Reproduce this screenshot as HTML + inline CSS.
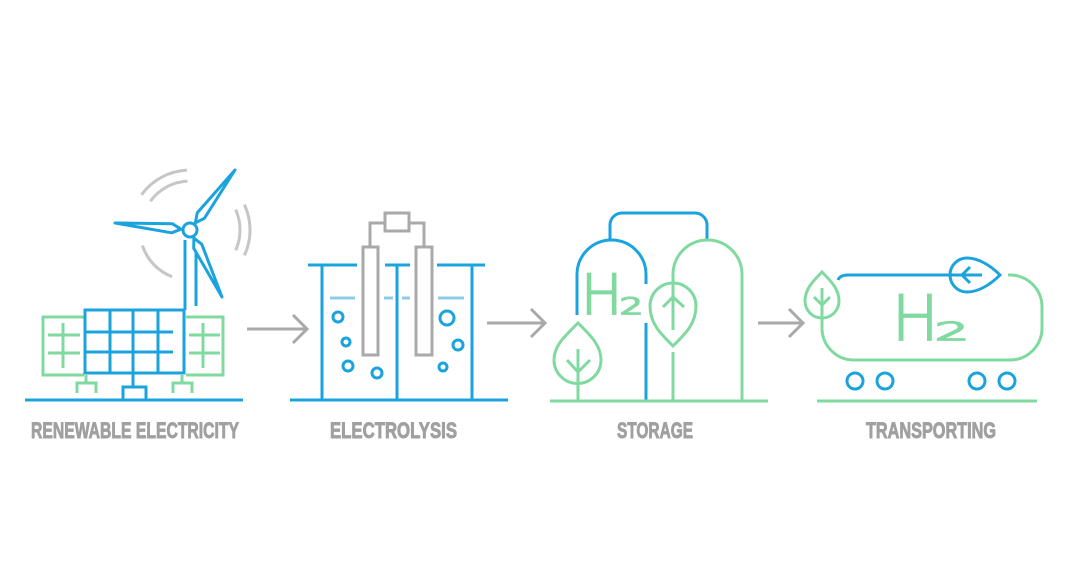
<!DOCTYPE html>
<html>
<head>
<meta charset="utf-8">
<style>
  html, body { margin: 0; padding: 0; background: #ffffff; }
  body { width: 1068px; height: 580px; overflow: hidden; }
  svg { display: block; }
  .b { stroke: #1ba3dd; stroke-width: 3; fill: none; }
  .g { stroke: #80da9f; stroke-width: 3; fill: none; }
  .gr { stroke: #a9a9a9; stroke-width: 3; fill: none; }
  .arc { stroke: #c6c6c6; stroke-width: 3; fill: none; }
  .w { stroke: #8bcde6; stroke-width: 3; fill: none; }
  .lbl { font-family: "Liberation Sans Narrow", "Liberation Sans", sans-serif; font-weight: bold; font-size: 22px; fill: #a0a0a0; stroke: #a0a0a0; stroke-width: 0.9; }
  .h2 { font-family: "DejaVu Sans", "Liberation Sans", sans-serif; font-weight: 200; fill: #80da9f; stroke: #80da9f; stroke-width: 1.8; }
</style>
</head>
<body>
<svg width="1068" height="580" viewBox="0 0 1068 580" xmlns="http://www.w3.org/2000/svg">
  <rect width="1068" height="580" fill="#ffffff"/>

  <!-- ========== RENEWABLE ELECTRICITY ========== -->
  <path class="arc" d="M141.5,194.7 A60,60 0 0 1 186.9,170.1"/>
  <path class="arc" d="M150.4,201.2 A49,49 0 0 1 187.4,181.1"/>
  <path class="arc" d="M235.7,209.7 A50,50 0 0 1 235.7,250.3"/>
  <path class="arc" d="M244.4,204.6 A60,60 0 0 1 244.4,255.4"/>
  <path class="arc" d="M172.1,276.7 A50,50 0 0 1 142.4,245.5"/>

  <path class="b" d="M185,240 V310"/>
  <path class="b" d="M196,253 V306"/>
  <path class="b" stroke-width="2.6" stroke-linejoin="round" d="M195.4,222.8 L204.4,218.3 L235,170 L197.2,212.9 Z"/>
  <path class="b" stroke-width="2.6" stroke-linejoin="round" d="M181,229.2 L172.5,223.8 L115,223 L171.7,232.8 Z"/>
  <path class="b" stroke-width="2.6" stroke-linejoin="round" d="M193.9,238.1 L193.7,248.2 L222,297 L201.8,244.3 Z"/>
  <circle cx="190" cy="230" r="7" fill="#ffffff" stroke="#1ba3dd" stroke-width="3"/>

  <path class="g" d="M84,317 H43 V375 H84"/>
  <path class="g" d="M63,323 V368 M48,335 H80 M48,353 H80"/>
  <path class="g" d="M186,317 H223 V375 H186"/>
  <path class="g" d="M203,323 V368 M189,335 H220 M189,353 H220"/>
  <path class="g" d="M86,375 V383 M77,393 V383 H96 V393"/>
  <path class="g" d="M182,375 V383 M173,393 V383 H192 V393"/>

  <rect class="b" x="85" y="310" width="99" height="63" fill="#ffffff"/>
  <path class="b" d="M110,310 V373 M133,310 V373 M158,310 V373 M85,332 H173 M85,352 H173"/>
  <path class="b" d="M133,373 V387"/>
  <rect class="b" x="123" y="387" width="23" height="13"/>
  <path class="b" d="M25,400 H243"/>

  <text class="lbl" x="31" y="438" textLength="208" lengthAdjust="spacingAndGlyphs">RENEWABLE ELECTRICITY</text>

  <path class="gr" d="M247,329 H306"/>
  <path class="gr" d="M293,315 L307,329 L293,343"/>

  <!-- ========== ELECTROLYSIS ========== -->
  <path class="gr" d="M370,247 V223 H385 M409,223 H424 V247"/>
  <rect class="gr" x="385" y="213" width="24" height="18"/>
  <rect class="gr" x="363" y="247" width="15" height="108" fill="#ffffff"/>
  <rect class="gr" x="416" y="247" width="16" height="108" fill="#ffffff"/>
  <path class="b" d="M322,265 V400 M397,265 V400 M472,265 V400"/>
  <path class="b" d="M308,265 H357 M385,265 H410 M437,265 H485"/>
  <path class="b" d="M290,400 H508"/>
  <path class="w" d="M330,298 H355 M384,298 H393 M402,298 H410 M438,298 H464"/>
  <circle class="b" cx="338" cy="317" r="5"/>
  <circle class="b" cx="346" cy="342" r="4"/>
  <circle class="b" cx="348" cy="366" r="5"/>
  <circle class="b" cx="377" cy="373" r="5"/>
  <circle class="b" cx="447" cy="318" r="7"/>
  <circle class="b" cx="458" cy="345" r="5"/>
  <circle class="b" cx="443" cy="367" r="4"/>

  <text class="lbl" x="330" y="438" textLength="127" lengthAdjust="spacingAndGlyphs">ELECTROLYSIS</text>

  <path class="gr" d="M487,323 H544"/>
  <path class="gr" d="M531,309 L545,323 L531,337"/>

  <!-- ========== STORAGE ========== -->
  <path class="b" d="M610,240 V225 A12,12 0 0 1 622,213 H695 A12,12 0 0 1 707,225 V240"/>
  <path class="b" d="M577,315 V274.5 A34.5,34.5 0 0 1 646,274.5 V284"/>
  <path class="b" d="M646,323 V400"/>
  <path class="g" d="M673,315 V274.5 A34.5,34.5 0 0 1 742,274.5 V400"/>
  <path class="g" d="M673,352 V400"/>
  <path class="g" fill="#ffffff" d="M673,346 C661,334 650,324 650,306 A23,23 0 0 1 696,306 C696,324 685,334 673,346 Z"/>
  <path class="g" d="M673,283 V330 M663,307 L673,297 L684,307"/>
  <text class="h2" x="581" y="314" font-size="55">H</text>
  <text class="h2" x="620" y="314" font-size="22" textLength="23" lengthAdjust="spacingAndGlyphs">2</text>
  <path class="g" d="M578,323 C590,335 601,345 601,360 A23.5,23.5 0 0 1 554,360 C554,345 566,335 578,323 Z"/>
  <path class="g" d="M578,349 V400 M567,360 L578,372 L590,360"/>
  <path class="g" d="M550,401 H768"/>

  <text class="lbl" x="617" y="438" textLength="76" lengthAdjust="spacingAndGlyphs">STORAGE</text>

  <path class="gr" d="M758,323 H802"/>
  <path class="gr" d="M789,309 L803,323 L789,337"/>

  <!-- ========== TRANSPORTING ========== -->
  <path class="g" d="M822,288 V328 A32,32 0 0 0 854,360 H1010 A32,32 0 0 0 1042,328 V307 A32,32 0 0 0 1010,275 H1008"/>
  <path class="g" fill="#ffffff" d="M822,272 C831,281 839,289 839,301 A17,17 0 0 1 805,301 C805,289 813,281 822,272 Z"/>
  <path class="g" d="M822,288 V318 M814,297 L822,305 L830,297"/>
  <path class="b" d="M838,280 Q840,275 848,275 H982"/>
  <path class="b" d="M1000,275 C991,284 979,292 967,292 A17,17 0 0 1 967,258 C979,258 991,266 1000,275 Z"/>
  <path class="b" d="M970,267 L962,275 L970,283"/>
  <text class="h2" x="892" y="340" font-size="62">H</text>
  <text class="h2" x="935" y="340" font-size="25" textLength="34" lengthAdjust="spacingAndGlyphs">2</text>
  <circle class="b" cx="855" cy="381" r="8"/>
  <circle class="b" cx="885" cy="381" r="8"/>
  <circle class="b" cx="977" cy="381" r="8"/>
  <circle class="b" cx="1007" cy="381" r="8"/>
  <path class="g" d="M817,401 H1037"/>

  <text class="lbl" x="866" y="438" textLength="130" lengthAdjust="spacingAndGlyphs">TRANSPORTING</text>
</svg>
</body>
</html>
